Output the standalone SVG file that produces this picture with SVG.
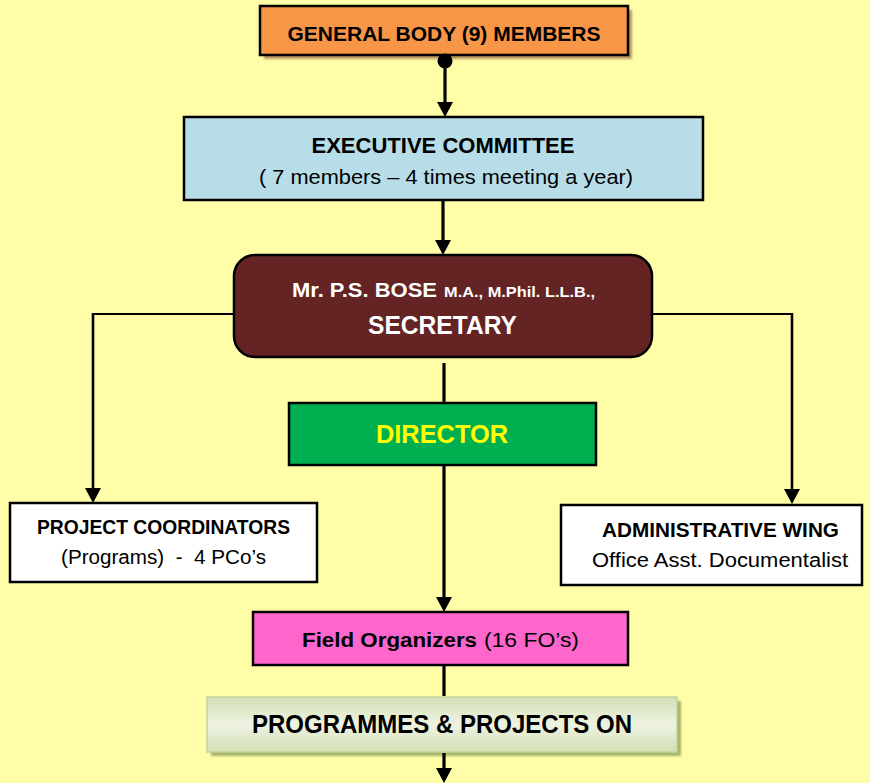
<svg xmlns="http://www.w3.org/2000/svg" width="870" height="783" viewBox="0 0 870 783">
<defs>
<style>
text{font-family:"Liberation Sans",Arial,sans-serif;fill:#000}
.b{font-weight:bold}
.box{stroke:#000;stroke-width:2.5}
.thin{stroke:#000;stroke-width:1.8;fill:none}
.thick{stroke:#000;stroke-width:3.2;fill:none}
.head{fill:#000}
</style>
<linearGradient id="pg" x1="0" y1="0" x2="0" y2="1">
<stop offset="0" stop-color="#D3DFB5"/>
<stop offset="0.5" stop-color="#EEF3E2"/>
<stop offset="1" stop-color="#D3DFB5"/>
</linearGradient>
<filter id="blur" x="-5%" y="-20%" width="110%" height="140%"><feGaussianBlur stdDeviation="1.2"/></filter>
</defs>
<rect x="0" y="0" width="870" height="783" fill="#FFFDA8"/>

<g id="general-body">
<rect x="264" y="10" width="368" height="49" fill="#B89860" filter="url(#blur)"/>
<rect class="box" x="260" y="6" width="368" height="49" fill="#F79646"/>
<text class="b" x="444" y="41" font-size="20.5" text-anchor="middle" textLength="313" lengthAdjust="spacingAndGlyphs">GENERAL BODY (9) MEMBERS</text>
</g>

<g id="executive-committee">
<rect class="box" x="184" y="117" width="519" height="83" fill="#B7DDE8"/>
<text class="b" x="443" y="153" font-size="22.5" text-anchor="middle" textLength="263" lengthAdjust="spacingAndGlyphs">EXECUTIVE COMMITTEE</text>
<text x="446" y="184" font-size="20.5" text-anchor="middle" textLength="374" lengthAdjust="spacingAndGlyphs">( 7 members – 4 times meeting a year)</text>
</g>

<g id="secretary">
<rect class="box" x="234" y="255" width="418" height="102" rx="21" ry="21" fill="#632423"/>
<text class="b" x="292" y="297" font-size="20.5" style="fill:#fff" textLength="145" lengthAdjust="spacingAndGlyphs">Mr. P.S. BOSE</text>
<text class="b" x="444" y="297" font-size="14" style="fill:#fff" textLength="151" lengthAdjust="spacingAndGlyphs">M.A., M.Phil. L.L.B.,</text>
<text class="b" x="442.5" y="334" font-size="26.5" text-anchor="middle" style="fill:#fff" textLength="149" lengthAdjust="spacingAndGlyphs">SECRETARY</text>
</g>

<g id="director">
<rect class="box" x="289" y="403" width="307" height="62" fill="#00B050"/>
<text class="b" x="442" y="443" font-size="26.5" text-anchor="middle" style="fill:#FFFF00" textLength="132" lengthAdjust="spacingAndGlyphs">DIRECTOR</text>
</g>

<g id="project-coordinators">
<rect class="box" x="10" y="503" width="307" height="79" fill="#fff"/>
<text class="b" x="163.5" y="534" font-size="19.5" text-anchor="middle" textLength="253" lengthAdjust="spacingAndGlyphs">PROJECT COORDINATORS</text>
<text x="163.5" y="564" font-size="19.5" text-anchor="middle" textLength="205" lengthAdjust="spacingAndGlyphs" xml:space="preserve">(Programs)  -  4 PCo’s</text>
</g>

<g id="administrative-wing">
<rect class="box" x="561" y="505" width="301" height="80" fill="#fff"/>
<text class="b" x="720.5" y="537" font-size="19.5" text-anchor="middle" textLength="237" lengthAdjust="spacingAndGlyphs">ADMINISTRATIVE WING</text>
<text x="720" y="567" font-size="19.5" text-anchor="middle" textLength="256" lengthAdjust="spacingAndGlyphs">Office Asst. Documentalist</text>
</g>

<g id="field-organizers">
<rect class="box" x="253" y="612" width="375" height="53" fill="#FF66CC"/>
<text class="b" x="302" y="647" font-size="19.5" textLength="175" lengthAdjust="spacingAndGlyphs">Field Organizers</text>
<text x="484" y="647" font-size="19.5" textLength="95" lengthAdjust="spacingAndGlyphs">(16 FO’s)</text>
</g>

<g id="programmes">
<rect x="211" y="701" width="470" height="55" fill="#A4B46A" filter="url(#blur)"/>
<rect x="207" y="697" width="470" height="55" fill="url(#pg)" stroke="#C4D29C" stroke-width="1.5"/>
<text class="b" x="442" y="733" font-size="25.5" text-anchor="middle" textLength="380" lengthAdjust="spacingAndGlyphs">PROGRAMMES &amp; PROJECTS ON</text>
</g>

<g id="connectors">
<circle cx="445" cy="61" r="7.5" fill="#000"/>
<path class="thick" d="M445,61 V103"/>
<path class="head" d="M437,102 L453,102 L445,117 Z"/>
<path class="thick" d="M443,201 V241"/>
<path class="head" d="M435,240 L451,240 L443,255 Z"/>
<path class="thick" d="M444,363 V402"/>
<path class="thick" d="M444,466 V598"/>
<path class="head" d="M436,597 L452,597 L444,612 Z"/>
<path class="thick" d="M444,666 V696"/>
<path class="thin" d="M233,314 H93"/>
<path class="thick" d="M93,313 V489" style="stroke-width:2.6"/>
<path class="head" d="M85,488 L101,488 L93,503 Z"/>
<path class="thin" d="M653,314 H792"/>
<path class="thick" d="M792,313 V490" style="stroke-width:2.6"/>
<path class="head" d="M784,489 L800,489 L792,504 Z"/>
<path class="thick" d="M444,753 V770"/>
<path class="head" d="M436,768 L452,768 L444,783 Z"/>
</g>
</svg>
